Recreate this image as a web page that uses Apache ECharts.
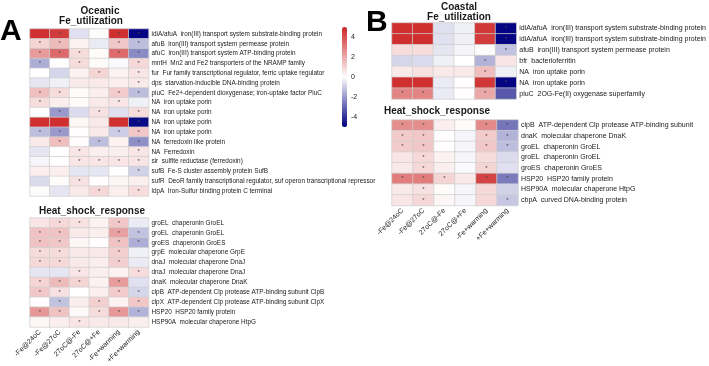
<!DOCTYPE html>
<html>
<head>
<meta charset="utf-8">
<script src="https://cdn.jsdelivr.net/npm/echarts@6/dist/echarts.min.js"></script>
<style>
  html, body { margin: 0; padding: 0; background: #fff; }
  #chart { width: 709px; height: 366px; }
</style>
</head>
<body>
<div id="chart"></div>
<script>
const conditions = ['-Fe@24oC', '-Fe@27oC', '27oC@-Fe', '27oC@+Fe', '-Fe+warming', '+Fe+warming']

// Panel A, oceanic
const oceanicFeGenes = [
  'idiA/afuA  iron(III) transport system substrate-binding protein',
  'afuB  iron(III) transport system permease protein',
  'afuC  iron(III) transport system ATP-binding protein',
  'mntH  Mn2 and Fe2 transporters of the NRAMP family',
  'fur  Fur family transcriptional regulator, ferric uptake regulator',
  'dps  starvation-inducible DNA-binding protein',
  'piuC  Fe2+-dependent dioxygenase; iron-uptake factor PiuC',
  'NA  iron uptake porin',
  'NA  iron uptake porin',
  'NA  iron uptake porin',
  'NA  iron uptake porin',
  'NA  ferredoxin like protein',
  'NA  Ferredoxin',
  'sir  sulfite reductase (ferredoxin)',
  'sufB  Fe-S cluster assembly protein SufB',
  'sufR  DeoR family transcriptional regulator, suf operon transcriptional repressor',
  'ldpA  Iron-Sulfur binding protein C terminal'
]
const oceanicFeValues = [
  [4.8, 4.5, -0.6, 0.1, 4.8, -4.9],
  [1.0, 1.6, 0.3, -0.4, 1.3, -1.3],
  [2.3, 3.4, 0.8, 0.1, 3.4, -2.3],
  [-1.6, 0.05, 0.8, 0.1, -0.1, 0.9],
  [0, -0.8, 0.3, 1.0, 0.3, 0.6],
  [-0.5, -0.3, 0.5, 0.5, 0.4, 0.5],
  [1.5, 0.8, 0.1, 0.4, 1.2, -1.3],
  [0.8, 0.4, 0.1, 0.5, 0.6, -0.3],
  [0, -2.0, -0.7, 0.7, -0.6, 0.8],
  [4.8, 4.8, 0.2, 0.5, 4.8, -4.8],
  [-1.3, -2.0, 0.05, 0.5, -1.0, 1.3],
  [0.5, 1.5, 0.1, -1.3, 0.3, -2.2],
  [-0.5, 0, 0.6, 0.4, 0.4, 0.6],
  [-0.2, 0.05, 0.6, 0.6, 0.6, 0.6],
  [0.4, 0.4, -0.5, -0.5, 0, -0.9],
  [-0.7, 0.1, 0.7, 0.05, 0.2, 0.4],
  [0.1, -0.5, 0.5, 0.9, 0.4, 0.8]
]
const oceanicFeStars = [
  '010011', '110011', '111011', '101001', '000101', '000001', '110011', '100010', '010101',
  '000001', '110011', '010101', '001001', '001111', '000001', '001000', '000101'
]

const oceanicHsGenes = [
  'groEL  chaperonin GroEL',
  'groEL  chaperonin GroEL',
  'groES  chaperonin GroES',
  'grpE  molecular chaperone GrpE',
  'dnaJ  molecular chaperone DnaJ',
  'dnaJ  molecular chaperone DnaJ',
  'dnaK  molecular chaperone DnaK',
  'clpB  ATP-dependent Clp protease ATP-binding subunit ClpB',
  'clpX  ATP-dependent Clp protease ATP-binding subunit ClpX',
  'HSP20  HSP20 family protein',
  'HSP90A  molecular chaperone HtpG'
]
const oceanicHsValues = [
  [0.6, 0.9, 0.7, 0.3, 1.3, -0.4],
  [1.4, 1.4, 0.5, 0.4, 2.2, -1.2],
  [1.4, 1.3, 0.2, 0.05, 1.4, -1.6],
  [0.8, 0.8, 0.5, 0.5, 1.1, -0.3],
  [0.9, 0.9, 0.5, 0.4, 1.1, -0.4],
  [-0.5, -0.5, 0.6, 0.4, 0.3, 0.8],
  [1.0, 1.6, 1.0, 0.3, 2.3, -0.6],
  [1.3, 0.7, 0, 0.4, 1.2, -0.8],
  [0.05, -1.2, 0.4, 1.1, 0.3, 1.3],
  [2.4, 1.4, 0.15, 0.8, 2.4, -1.5],
  [0.2, 0.4, 0.6, 0.5, 0.5, 0.4]
]
const oceanicHsStars = [
  '011010', '110011', '110011', '110010', '110010', '001001', '111010', '110011', '010101', '110111', '001000'
]

// Panel B, coastal
const coastalFeGenes = [
  'idiA/afuA  iron(III) transport system substrate-binding protein',
  'idiA/afuA  iron(III) transport system substrate-binding protein',
  'afuB  iron(III) transport system permease protein',
  'bfr  bacterioferritin',
  'NA  iron uptake porin',
  'NA  iron uptake porin',
  'piuC  2OG-Fe(II) oxygenase superfamily'
]
const coastalFeValues = [
  [4.8, 4.8, -0.6, -0.3, 4.6, -4.9],
  [4.8, 4.8, -0.6, -0.3, 4.5, -4.9],
  [0.8, 0.8, -0.5, -0.2, 0.1, -1.2],
  [-0.8, -0.7, -0.3, 0, -1.5, 0.6],
  [0.5, 0.7, 0.5, 0.5, 1.5, -0.3],
  [4.8, 4.8, -0.4, 0.05, 4.6, -4.9],
  [2.8, 2.8, -0.4, 0.05, 2.0, -3.3]
]
const coastalFeStars = ['000001', '000001', '000001', '000010', '000010', '000001', '110010']

const coastalHsGenes = [
  'clpB  ATP-dependent Clp protease ATP-binding subunit',
  'dnaK  molecular chaperone DnaK',
  'groEL  chaperonin GroEL',
  'groEL  chaperonin GroEL',
  'groES  chaperonin GroES',
  'HSP20  HSP20 family protein',
  'HSP90A  molecular chaperone HtpG',
  'cbpA  curved DNA-binding protein'
]
const coastalHsValues = [
  [2.6, 2.6, 0.4, 0.1, 2.7, -2.7],
  [1.2, 1.3, 0.05, -0.2, 1.2, -1.5],
  [1.2, 1.3, 0.05, -0.2, 1.3, -1.3],
  [0.6, 0.9, 0.3, -0.2, 0.8, -0.7],
  [0.5, 0.9, 0.4, -0.1, 1.0, -0.6],
  [3.0, 3.0, 1.0, 0.5, 4.3, -2.6],
  [0.5, 0.7, 0.1, -0.2, 0.9, -0.9],
  [0.6, 0.9, 0.2, -0.2, 0.9, -1.1]
]
const coastalHsStars = ['110011', '110011', '110011', '010000', '010010', '111011', '010000', '010001']

const colorbarTicks = [4, 2, 0, -2, -4]

const FONT = 'Liberation Sans, Arial, sans-serif'
const TEXT = '#1a1a1a'

const panels = [
  { genes: oceanicFeGenes, values: oceanicFeValues, stars: oceanicFeStars,
    box: { left: 30, top: 29, width: 118.5, height: 167 }, xLabels: false, font: 6.4 },
  { genes: oceanicHsGenes, values: oceanicHsValues, stars: oceanicHsStars,
    box: { left: 30, top: 218, width: 118.5, height: 109 }, xLabels: true, font: 6.4 },
  { genes: coastalFeGenes, values: coastalFeValues, stars: coastalFeStars,
    box: { left: 392, top: 23, width: 126, height: 76 }, xLabels: false, font: 7 },
  { genes: coastalHsGenes, values: coastalHsValues, stars: coastalHsStars,
    box: { left: 392, top: 120, width: 126, height: 85.5 }, xLabels: true, font: 7 }
]

function toCells(values) {
  const out = []
  values.forEach((row, r) => row.forEach((v, c) => out.push([c, r, v])))
  return out
}

const grid = []
const xAxis = []
const yAxis = []
const series = []

panels.forEach((p, i) => {
  grid.push(p.box)
  xAxis.push({
    type: 'category',
    gridIndex: i,
    data: conditions,
    axisLine: { show: false },
    axisTick: { show: false },
    splitLine: { show: false },
    axisLabel: {
      show: p.xLabels, interval: 0, rotate: 45, margin: 4,
      fontSize: 7, fontFamily: FONT, color: TEXT
    }
  })
  yAxis.push({
    type: 'category',
    gridIndex: i,
    data: p.genes,
    inverse: true,
    position: 'right',
    axisLine: { show: false },
    axisTick: { show: false },
    splitLine: { show: false },
    axisLabel: { interval: 0, margin: 3, fontSize: p.font, fontFamily: FONT, color: TEXT }
  })
  series.push({
    type: 'heatmap',
    xAxisIndex: i,
    yAxisIndex: i,
    data: toCells(p.values),
    itemStyle: { borderColor: '#cfcfcf', borderWidth: 0.7 },
    emphasis: { disabled: true },
    label: {
      show: true,
      fontSize: 6,
      color: '#444',
      fontFamily: FONT,
      formatter: (d) => (p.stars[d.value[1]][d.value[0]] === '1' ? '*' : '')
    }
  })
})

// axis used only for the colour bar tick labels
grid.push({ left: 342, top: 27, width: 5, height: 100 })
xAxis.push({ type: 'value', gridIndex: 4, show: false })
yAxis.push({
  type: 'value',
  gridIndex: 4,
  min: -5,
  max: 5,
  position: 'right',
  axisLine: { show: false },
  axisTick: { show: false },
  splitLine: { show: false },
  axisLabel: { customValues: colorbarTicks, margin: 4, fontSize: 7, fontFamily: FONT, color: TEXT }
})

function label(text, x, y, size, bold) {
  return {
    type: 'text',
    x: x, y: y,
    style: {
      text: text,
      fill: TEXT,
      font: (bold ? 'bold ' : '') + size + 'px ' + FONT,
      textAlign: 'center',
      textVerticalAlign: 'middle'
    }
  }
}

const option = {
  animation: false,
  backgroundColor: '#fff',
  grid: grid,
  xAxis: xAxis,
  yAxis: yAxis,
  visualMap: {
    type: 'continuous',
    min: -5,
    max: 5,
    seriesIndex: [0, 1, 2, 3],
    calculable: false,
    left: 342,
    top: 27,
    padding: 0,
    itemWidth: 5,
    itemHeight: 100,
    text: null,
    inRange: { color: ['#000080', '#ffffff', '#CD2626'] }
  },
  series: series,
  graphic: [
    { type: 'text', left: 0, top: 17, style: { text: 'A', font: 'bold 30px ' + FONT, fill: '#000' } },
    { type: 'text', left: 366, top: 8, style: { text: 'B', font: 'bold 30px ' + FONT, fill: '#000' } },
    label('Oceanic', 100, 11, 10, true),
    label('Fe_utilization', 91, 21.5, 10, true),
    label('Heat_shock_response', 92, 211, 10, true),
    label('Coastal', 459, 7, 10, true),
    label('Fe_utilization', 459, 17.5, 10, true),
    label('Heat_shock_response', 437, 111, 10, true)
  ]
}

const chart = echarts.init(document.getElementById('chart'), null, { renderer: 'canvas' })
chart.setOption(option)
</script>
</body>
</html>
